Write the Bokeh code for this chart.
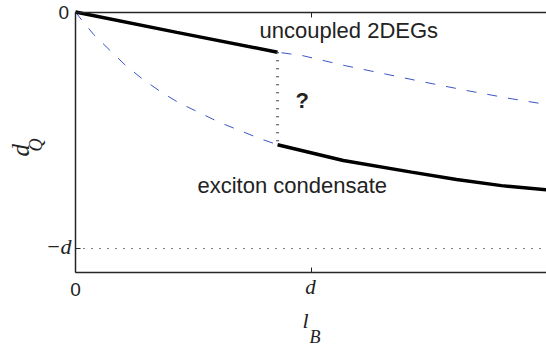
import math
from bokeh.plotting import figure
from bokeh.models import Label, LinearAxis, FixedTicker, Range1d
from bokeh.embed import file_html
from bokeh.resources import INLINE

# ---- data (units of d) ----
x_min, x_max = 0.0, 2.0
y_min, y_max = -1.1, 0.0
trans_x = 0.858
upper_solid_x = [0.0, 0.43, 0.858]
upper_solid_y = [0.0, -0.086, -0.170]
upper_dash_x = [0.0, 0.43, 0.858, 0.962, 1.146, 1.315, 1.484, 1.667, 1.835, 2.0]
upper_dash_y = [0.0, -0.086, -0.170, -0.184, -0.227, -0.262, -0.297, -0.333, -0.364, -0.391]
lower_dash_x = [0.0, 0.028, 0.077, 0.143, 0.214, 0.284, 0.366, 0.436, 0.612, 0.788, 0.858]
lower_dash_y = [0.0, -0.036, -0.095, -0.159, -0.227, -0.283, -0.340, -0.382, -0.467, -0.537, -0.561]
lower_solid_x = [0.858, 1.137, 1.427, 1.618, 1.809, 2.0]
lower_solid_y = [-0.561, -0.628, -0.677, -0.708, -0.734, -0.752]
gap_y = [-0.170, -0.561]
minus_d = -1.0
x_ticks = [0, 1]
y_ticks = [-1, 0]

BLUE = "#3b55c4"
AX = "#262626"
TXT = "#222222"

# frame covers the whole canvas; axes are placed at fixed data locations
W, H = 546, 346
left_px, right_px = 75.0, 546.0
top_px, bottom_px = 11.5, 271.7
sx = (right_px - left_px) / (x_max - x_min)
sy = (bottom_px - top_px) / (y_max - y_min)
xr = Range1d(x_min - left_px / sx, x_max + (W - right_px) / sx)
yr = Range1d(y_min - (H - bottom_px) / sy, y_max + top_px / sy)

p = figure(width=W, height=H, output_backend="svg", toolbar_location=None,
           x_range=xr, y_range=yr, x_axis_location=None, y_axis_location=None,
           min_border=0)
p.grid.visible = False
p.outline_line_color = None
p.background_fill_color = "white"
p.border_fill_color = "white"

def make_axis(ticks, loc, bounds):
    return LinearAxis(ticker=FixedTicker(ticks=ticks), fixed_location=loc, bounds=bounds,
                      axis_line_color=AX, axis_line_width=1.5,
                      major_tick_line_color=AX, major_tick_line_width=1,
                      major_tick_in=5, major_tick_out=0,
                      minor_tick_line_color=None,
                      major_label_text_color=None, major_label_standoff=0)

p.add_layout(make_axis(x_ticks, y_min, (x_min, x_max)), "below")
p.add_layout(make_axis([1], y_max, (x_min, x_max)), "above")
p.add_layout(make_axis(y_ticks, x_min, (y_min, y_max)), "left")

# -d reference line
p.line([x_min, x_max], [minus_d, minus_d], line_color="black", line_width=1, line_dash="1 7")

# curves
p.line(upper_dash_x, upper_dash_y, line_color=BLUE, line_width=1, line_dash="10 11")
p.line(lower_dash_x, lower_dash_y, line_color=BLUE, line_width=1, line_dash="10 11")
p.line(upper_solid_x, upper_solid_y, line_color="black", line_width=3.5)
p.line(lower_solid_x, lower_solid_y, line_color="black", line_width=3.5)
p.line([trans_x, trans_x], gap_y, line_color="#444444", line_width=3, line_dash="1 7")

SANS = "Liberation Sans"
SERIF = "Liberation Serif"

def px2x(px):
    return x_min + (px - left_px) / sx

def px2y(py):
    return y_max - (py - top_px) / sy

def lab(px, py, text, font=SANS, size="22px", style="normal", align="left",
        baseline="alphabetic", angle=0.0):
    p.add_layout(Label(x=px2x(px), y=px2y(py), text=text, text_font=font,
                       text_font_size=size, text_font_style=style, text_align=align,
                       text_baseline=baseline, text_color=TXT, angle=angle))

lab(259, 29.7, "uncoupled 2DEGs")
lab(197, 184.7, "exciton condensate")
lab(295, 99.7, "?", style="bold")

# tick labels
lab(68.5, 12, "0", size="19px", align="right")
lab(71, 246, "\u2212d", font=SERIF, size="22px", style="italic", align="right")
lab(75, 289, "0", size="19px", align="center")
lab(310, 286, "d", font=SERIF, size="21px", style="italic", align="center")

# axis labels
lab(302, 319.5, "l", font=SERIF, size="22px", style="italic")
lab(309, 336, "B", font=SERIF, size="18px", style="italic")
lab(20, 156, "d", font=SERIF, size="25px", style="italic", angle=math.pi / 2)
lab(35, 151, "Q", font=SERIF, size="18px", style="italic", angle=math.pi / 2)

open("out.html", "w").write(file_html(p, INLINE))
